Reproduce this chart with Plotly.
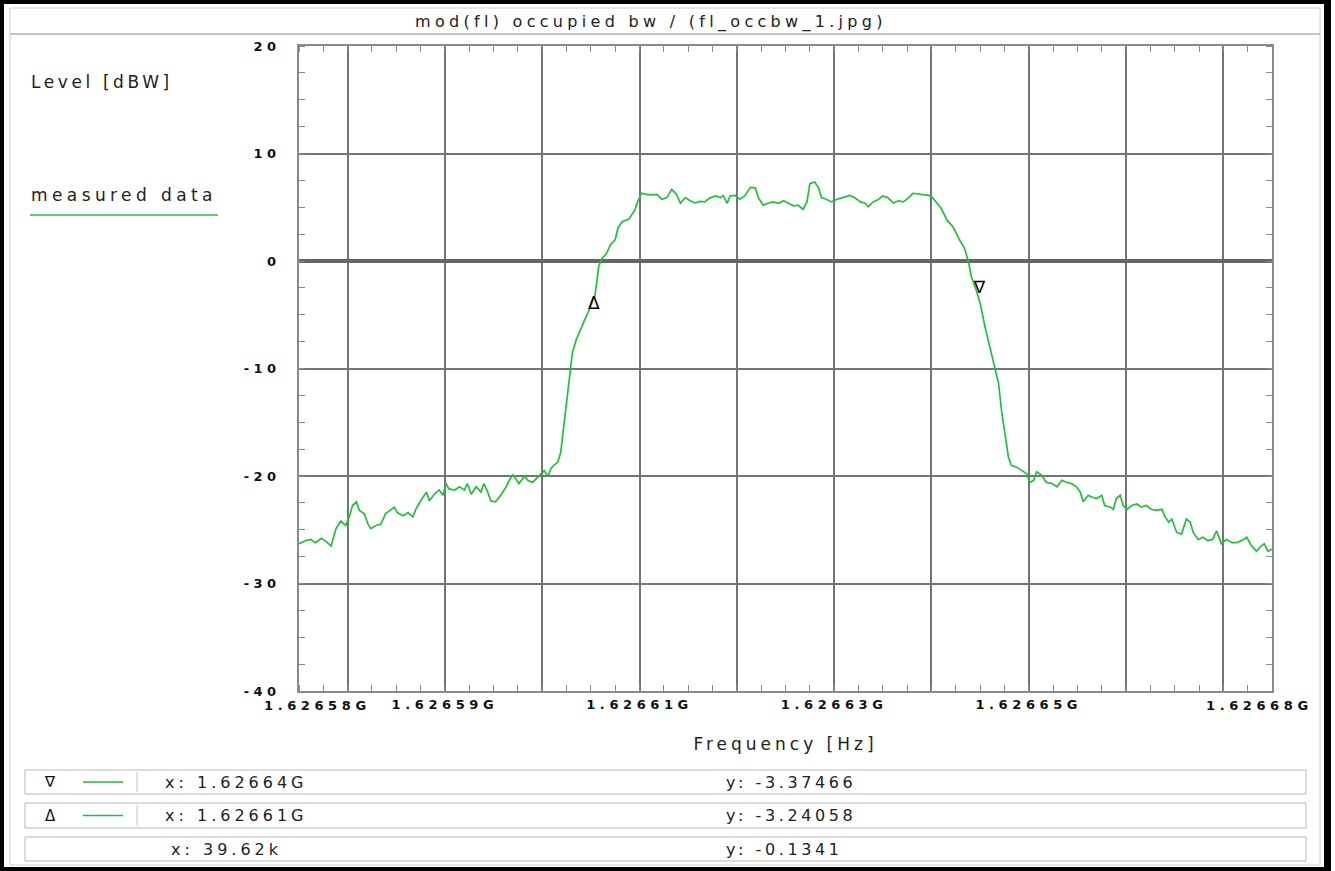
import plotly.graph_objects as go

# ---------------- data ----------------
F0_HZ = 1626575000          # left edge of the frequency axis
SPAN_HZ = 100000            # 100 kHz span

freq_offset_khz = [
    0.0, 0.7, 1.2, 1.7, 2.3, 2.8, 3.3, 3.5, 3.8, 4.3, 4.8, 5.2, 5.5, 5.9, 6.2, 6.7,
    7.1, 7.4, 7.9, 8.4, 8.9, 9.5, 9.8, 10.1, 10.7, 11.2, 11.7, 12.0, 12.5, 13.1, 13.4,
    13.9, 14.4, 14.8, 15.1, 15.4, 16.0, 16.5, 17.0, 17.3, 17.7, 18.2, 18.7, 19.0, 19.4,
    19.7, 20.2, 20.8, 21.3, 21.6, 22.0, 22.3, 22.6, 23.2, 23.5, 24.0, 24.5, 24.9, 25.2,
    25.6, 25.9, 26.2, 26.6, 26.9, 27.2, 27.5, 27.8, 28.1, 28.5, 28.9, 29.3, 29.7, 30.1,
    30.4, 30.6, 30.8, 31.1, 31.6, 32.0, 32.5, 32.8, 33.2, 33.9, 34.5, 34.8, 35.2, 35.7,
    36.2, 36.8, 37.3, 37.8, 38.3, 38.8, 39.2, 39.7, 40.2, 40.7, 41.2, 41.7, 42.2, 42.8,
    43.3, 43.6, 44.0, 44.3, 44.8, 45.3, 45.8, 46.4, 46.9, 47.2, 47.7, 48.2, 48.7, 49.3,
    49.8, 50.3, 50.8, 51.3, 51.8, 52.2, 52.5, 53.0, 53.4, 53.7, 54.2, 54.7, 55.3, 55.9,
    56.6, 57.1, 57.7, 58.2, 58.5, 59.0, 59.5, 60.0, 60.5, 61.1, 61.6, 62.1, 62.6, 63.1,
    63.6, 64.2, 64.7, 65.0, 65.5, 66.0, 66.6, 67.2, 67.9, 68.4, 68.8, 69.1, 69.6, 69.8,
    70.0, 70.5, 71.0, 71.5, 71.9, 72.2, 72.6, 72.9, 73.2, 73.8, 74.3, 74.8, 75.1, 75.5,
    75.8, 76.3, 76.8, 77.4, 77.9, 78.4, 78.9, 79.4, 79.9, 80.3, 80.6, 81.1, 81.6, 82.0,
    82.5, 82.8, 83.4, 83.7, 84.0, 84.4, 84.7, 85.1, 85.6, 86.1, 86.6, 87.1, 87.6, 88.1,
    88.7, 89.0, 89.4, 89.7, 90.2, 90.7, 91.2, 91.6, 91.9, 92.4, 92.9, 93.4, 93.9, 94.3,
    94.8, 95.3, 95.9, 96.4, 96.9, 97.4, 97.9, 98.4, 98.9, 99.2, 99.6, 100.0,
]
level_dbw = [
    -26.3, -26.0, -25.9, -26.2, -25.8, -26.1, -26.5, -25.9, -24.9, -24.2, -24.6, -23.7,
    -22.75, -22.4, -23.2, -23.5, -24.5, -24.9, -24.6, -24.5, -23.5, -23.1, -22.9, -23.4,
    -23.7, -23.4, -23.8, -23.1, -22.3, -21.5, -22.3, -21.7, -21.3, -21.8, -20.7, -21.2,
    -21.3, -21.0, -21.3, -20.7, -21.7, -21.0, -21.5, -20.7, -21.5, -22.3, -22.4, -21.7,
    -21.0, -20.4, -19.9, -20.3, -20.7, -20.0, -20.4, -20.6, -20.1, -19.8, -19.5, -20.0,
    -19.3, -19.0, -18.7, -17.8, -15.5, -13.0, -10.5, -8.5, -7.3, -6.4, -5.6, -4.8, -3.8,
    -3.24, -2.0, -0.5, 0.2, 0.7, 1.5, 2.0, 3.1, 3.66, 3.9, 4.7, 5.5, 6.3, 6.2,
    6.15, 6.2, 5.74, 5.9, 6.67, 6.2, 5.37, 5.9, 5.6, 5.4, 5.55, 5.5, 5.85, 6.05,
    5.9, 6.1, 5.37, 6.05, 6.1, 5.75, 6.05, 6.85, 6.8, 5.9, 5.2, 5.37, 5.5, 5.37,
    5.6, 5.37, 5.13, 5.2, 4.8, 5.5, 7.2, 7.35, 6.8, 5.9, 5.75, 5.5, 5.75, 5.9,
    6.1, 5.9, 5.5, 5.37, 5.05, 5.5, 5.7, 6.05, 5.9, 5.4, 5.6, 5.5, 5.85, 6.3,
    6.25, 6.2, 6.1, 6.0, 5.5, 4.9, 3.8, 3.2, 1.95, 1.18, -0.06, -1.46, -2.7, -3.37,
    -3.9, -6.1, -8.0, -10.1, -11.4, -13.9, -16.3, -18.2, -19.0, -19.2, -19.5, -19.8, -20.6, -20.4,
    -19.6, -19.9, -20.6, -20.7, -21.0, -20.4, -20.6, -20.7, -21.0, -21.5, -22.4, -21.8, -22.0, -22.1,
    -21.8, -22.75, -22.9, -23.1, -22.1, -21.8, -22.75, -23.1, -22.75, -22.6, -22.9, -22.75, -23.1, -23.2,
    -23.1, -23.8, -24.3, -24.0, -25.25, -25.4, -24.0, -24.3, -25.25, -25.9, -25.7, -26.0, -25.9, -25.1,
    -26.3, -25.9, -26.2, -26.2, -26.0, -25.7, -26.5, -27.0, -26.5, -26.3, -27.0, -26.8,
]

marker_symbols = ["\u2207", "\u0394"]
marker_freq_hz = [1626644920, 1626605300]
marker_level = [-3.37466, -3.24058]

grid_freq_hz = [1626580000, 1626590000, 1626600000, 1626610000, 1626620000,
                1626630000, 1626640000, 1626650000, 1626660000, 1626670000]
grid_freq_text = ["", "1.62659G", "", "1.62661G", "", "1.62663G", "", "1.62665G", "", ""]
edge_freq_text = ["1.62658G", "1.62668G"]
level_ticks = [-40, -30, -20, -10, 0, 10, 20]

table_symbols = ["\u2207", "\u0394", ""]
table_x_text = ["x: 1.62664G", "x: 1.62661G", "x: 39.62k"]
table_y_text = ["y: -3.37466", "y: -3.24058", "y: -0.1341"]

title_text = "mod(fl) occupied bw / (fl_occbw_1.jpg)"
y_title = "Level [dBW]"
x_title = "Frequency [Hz]"
series_name = "measured data"

# ---------------- styling helpers ----------------
W, H = 1335, 871
L, R, T, B = 299, 1272, 46, 691
GREEN = "#1fc23a"
GRID = "#747474"
FONT = "DejaVu Sans"
TICKFONT = dict(family=FONT, size=13, color="#111", weight="bold")


def px(x):
    return (x - L) / (R - L)


def py(y):
    return (B - y) / (B - T)


def sp(text, ls):
    return f"<span style='letter-spacing:{ls}px'>{text}</span>"


freq_hz = [F0_HZ + k * 1000 for k in freq_offset_khz]

fig = go.Figure()
fig.add_trace(go.Scatter(
    x=freq_hz, y=level_dbw, mode="lines",
    line=dict(color=GREEN, width=1.7), name=series_name, showlegend=False,
    hoverinfo="skip",
))
fig.add_trace(go.Scatter(
    x=marker_freq_hz, y=marker_level, mode="text", text=marker_symbols,
    textposition=["top center", "bottom center"],
    textfont=dict(family=FONT, size=17, color="black"), showlegend=False,
    hoverinfo="skip",
))

shapes = []
annotations = []

# outer window frame
shapes.append(dict(type="rect", xref="paper", yref="paper", x0=px(2), x1=px(1328),
                   y0=py(869), y1=py(2), line=dict(color="black", width=4), layer="below"))
shapes.append(dict(type="rect", xref="paper", yref="paper", x0=px(1324), x1=px(1331),
                   y0=py(871), y1=py(0), line=dict(width=0), fillcolor="black", layer="below"))
# inner panel + header
shapes.append(dict(type="rect", xref="paper", yref="paper", x0=px(10), x1=px(1320),
                   y0=py(865), y1=py(8), line=dict(color="#cfcfcf", width=1), layer="below"))
shapes.append(dict(type="line", xref="paper", yref="paper", x0=px(10), x1=px(1320),
                   y0=py(34), y1=py(34), line=dict(color="#b0b0b0", width=1.5), layer="below"))
# legend sample line
shapes.append(dict(type="line", xref="paper", yref="paper", x0=px(30), x1=px(218),
                   y0=py(215), y1=py(215), line=dict(color=GREEN, width=1.5)))

annotations.append(dict(xref="paper", yref="paper", x=px(651), y=py(22), text=sp(title_text, 4.3),
                        showarrow=False, xanchor="center", yanchor="middle",
                        font=dict(family=FONT, size=16, color="#222")))
annotations.append(dict(xref="paper", yref="paper", x=px(29), y=py(82), text=sp(y_title, 3.6),
                        showarrow=False, xanchor="left", yanchor="middle",
                        font=dict(family=FONT, size=17, color="#222")))
annotations.append(dict(xref="paper", yref="paper", x=px(29), y=py(195), text=sp(series_name, 4.4),
                        showarrow=False, xanchor="left", yanchor="middle",
                        font=dict(family=FONT, size=17, color="#222")))

# edge tick labels of the frequency axis
annotations.append(dict(xref="x", yref="paper", x=F0_HZ, y=py(705), xshift=18,
                        text=sp(edge_freq_text[0], 4.6), showarrow=False, xanchor="center",
                        yanchor="middle", font=TICKFONT))
annotations.append(dict(xref="x", yref="paper", x=F0_HZ + SPAN_HZ, y=py(705), xshift=-13,
                        text=sp(edge_freq_text[1], 4.6), showarrow=False, xanchor="center",
                        yanchor="middle", font=TICKFONT))

# marker table
rows = [(770, 794, 782), (803, 828, 815.5), (837, 861, 849)]
for i, (top, bot, mid) in enumerate(rows):
    shapes.append(dict(type="rect", xref="paper", yref="paper", x0=px(25), x1=px(1306),
                       y0=py(bot), y1=py(top), line=dict(color="#b8b8b8", width=1),
                       fillcolor="white", layer="below"))
    if table_symbols[i]:
        shapes.append(dict(type="line", xref="paper", yref="paper", x0=px(137), x1=px(137),
                           y0=py(bot - 2), y1=py(top + 2), line=dict(color="#c4c4c4", width=1)))
        shapes.append(dict(type="line", xref="paper", yref="paper", x0=px(83), x1=px(123),
                           y0=py(mid), y1=py(mid), line=dict(color=GREEN, width=1.5)))
        annotations.append(dict(xref="paper", yref="paper", x=px(50), y=py(mid),
                                text=table_symbols[i], showarrow=False, xanchor="center",
                                yanchor="middle", font=dict(family=FONT, size=15, color="#111")))
    annotations.append(dict(xref="paper", yref="paper", x=px(163 if table_symbols[i] else 169),
                            y=py(mid), text=sp(table_x_text[i], 4.0), showarrow=False,
                            xanchor="left", yanchor="middle",
                            font=dict(family=FONT, size=16, color="#222")))
    annotations.append(dict(xref="paper", yref="paper", x=px(724), y=py(mid),
                            text=sp(table_y_text[i], 3.6), showarrow=False,
                            xanchor="left", yanchor="middle",
                            font=dict(family=FONT, size=16, color="#222")))

fig.update_layout(
    width=W, height=H,
    margin=dict(l=L, r=W - R, t=T, b=H - B, pad=0),
    paper_bgcolor="white", plot_bgcolor="white",
    showlegend=False,
    shapes=shapes, annotations=annotations,
    xaxis=dict(
        range=[F0_HZ, F0_HZ + SPAN_HZ],
        tickmode="array", tickvals=grid_freq_hz, ticktext=[sp(t, 4.6) for t in grid_freq_text],
        ticks="", showgrid=True, gridcolor=GRID, gridwidth=1.7,
        showline=True, linecolor="#8a8a8a", linewidth=2, mirror="ticks",
        zeroline=False,
        tickfont=TICKFONT,
        ticklabelstandoff=0,
        minor=dict(tickmode="linear", tick0=F0_HZ, dtick=2500, ticks="inside", ticklen=6,
                   tickcolor="#8a8a8a", tickwidth=1, showgrid=False),
        title=dict(text=sp(x_title, 4.0), font=dict(family=FONT, size=17, color="#222"),
                   standoff=28),
    ),
    yaxis=dict(
        range=[-40, 20],
        tickmode="array", tickvals=level_ticks,
        ticktext=[sp(str(v), 4.4) for v in level_ticks],
        ticks="", showgrid=True, gridcolor=GRID, gridwidth=1.7,
        showline=True, linecolor="#8a8a8a", linewidth=2, mirror="ticks",
        zeroline=True, zerolinecolor="#666666", zerolinewidth=3.5,
        tickfont=TICKFONT,
        ticklabelstandoff=14,
        minor=dict(tickmode="linear", tick0=-40, dtick=2.5, ticks="inside", ticklen=6,
                   tickcolor="#8a8a8a", tickwidth=1, showgrid=False),
    ),
)

fig.write_html("out.html")
